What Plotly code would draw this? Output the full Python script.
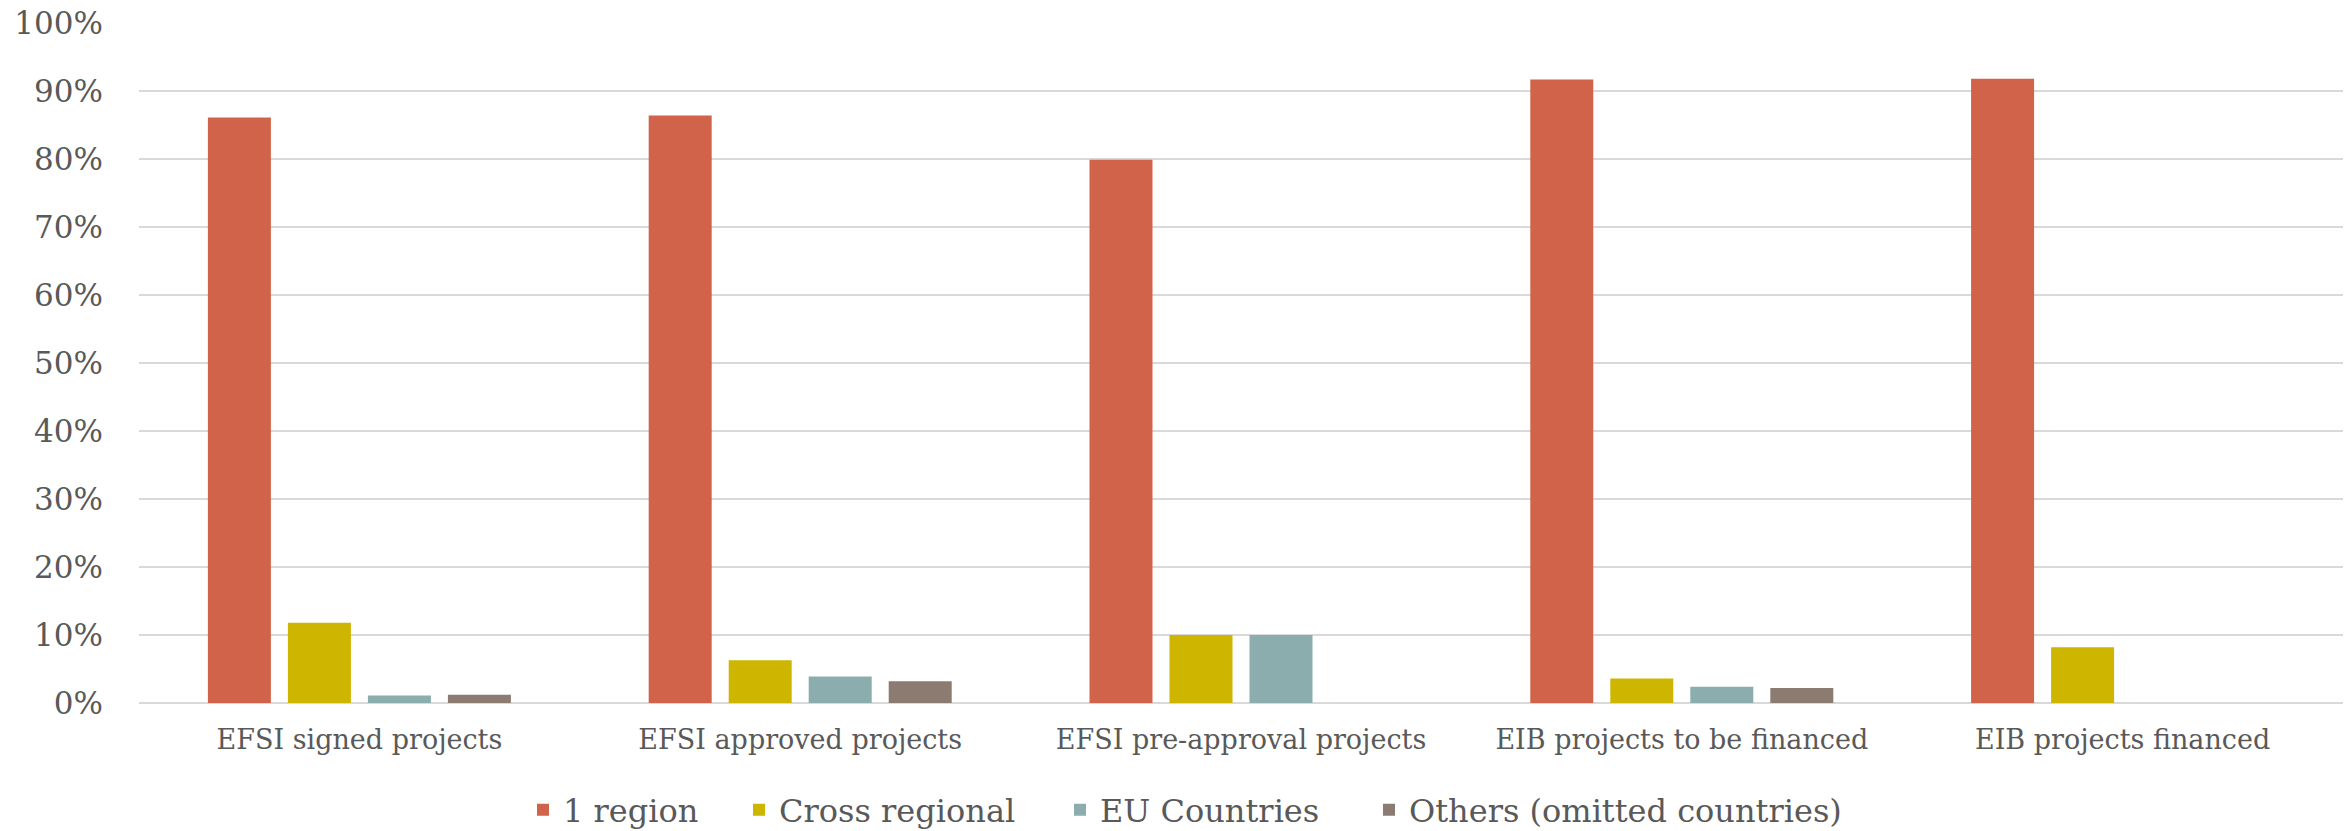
import plotly.graph_objects as go

categories = ["EFSI signed projects", "EFSI approved projects", "EFSI pre-approval projects",
              "EIB projects to be financed", "EIB projects financed"]
one_region = [0.861, 0.864, 0.799, 0.917, 0.918]
cross_regional = [0.118, 0.063, 0.100, 0.036, 0.082]
eu_countries = [0.011, 0.039, 0.100, 0.024, None]
others = [0.012, 0.032, None, 0.022, None]

series = [
    ("1 region", one_region, "#D1634A"),
    ("Cross regional", cross_regional, "#CEB500"),
    ("EU Countries", eu_countries, "#8CADAD"),
    ("Others (omitted countries)", others, "#8C7B70"),
]

FONT = "DejaVu Serif"
TXT = "#595959"
W, H = 2348, 831
legend_ids = ["legend", "legend2", "legend3", "legend4"]
legend_x_px = [523, 739, 1060, 1369]

fig = go.Figure()
for (name, vals, col), lid in zip(series, legend_ids):
    fig.add_trace(go.Bar(x=categories, y=vals, name=name, legend=lid,
                         marker=dict(color=col, line=dict(width=0))))

legend_common = dict(orientation="h", xref="container", yref="container",
                     xanchor="left", y=1 - 810 / H, yanchor="middle",
                     font=dict(family=FONT, size=32, color=TXT),
                     bgcolor="rgba(0,0,0,0)", borderwidth=0)

layout_legends = {lid: dict(legend_common, x=px / W) for lid, px in zip(legend_ids, legend_x_px)}

fig.update_layout(
    width=W, height=H,
    margin=dict(l=139, r=5, t=21, b=128),
    paper_bgcolor="white", plot_bgcolor="white",
    barmode="group", bargap=0.274, bargroupgap=0.2125,
    font=dict(family=FONT, color=TXT, size=28),
    xaxis=dict(showgrid=False, showline=False, zeroline=False, ticks="",
               tickfont=dict(family=FONT, size=27, color=TXT), ticklabelstandoff=18),
    yaxis=dict(range=[0, 1], dtick=0.1, tickformat=".0%", showgrid=True,
               gridcolor="#D9D9D9", gridwidth=2, zeroline=True, zerolinecolor="#D9D9D9",
               zerolinewidth=2, showline=False, ticks="",
               tickfont=dict(family=FONT, size=31, color=TXT), ticklabelstandoff=35),
    showlegend=True,
    **layout_legends,
)

fig.write_html("out.html")
